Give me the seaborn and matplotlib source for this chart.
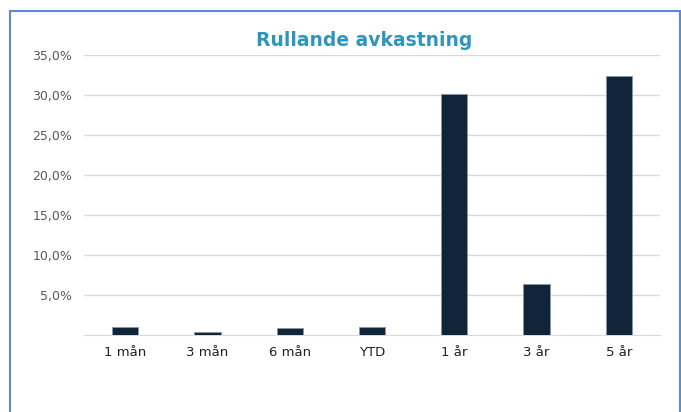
import matplotlib
matplotlib.use("Agg")
import matplotlib.pyplot as plt
from matplotlib.patches import Rectangle
from matplotlib.ticker import FuncFormatter
import seaborn as sns
import pandas as pd

# data
periods = ["1 mån", "3 mån", "6 mån", "YTD", "1 år", "3 år", "5 år"]
returns = [1.05, 0.35, 0.85, 1.05, 30.1, 6.35, 32.4]

df = pd.DataFrame({"period": periods, "ret": returns})

sns.set_style("white")
plt.rcParams["font.family"] = ["DejaVu Sans"]

fig = plt.figure(figsize=(6.81, 4.12), dpi=100)
ax = fig.add_axes([84 / 681, 77 / 412, 576 / 681, 280 / 412])

sns.barplot(data=df, x="period", y="ret", color="#10243a", width=0.32,
            saturation=1, edgecolor="#8a96a3", linewidth=0.6, ax=ax)

ax.set_ylim(0, 35)
ax.set_yticks([5, 10, 15, 20, 25, 30, 35])
ax.yaxis.set_major_formatter(FuncFormatter(lambda v, p: f"{v:.1f}%".replace(".", ",")))
ax.grid(axis="y", color="#d9d9d9", linewidth=1)
ax.set_axisbelow(True)
for s in ["top", "right", "left"]:
    ax.spines[s].set_visible(False)
ax.spines["bottom"].set_color("#d9d9d9")
ax.spines["bottom"].set_zorder(0.5)
ax.tick_params(axis="y", length=0, labelsize=9, labelcolor="#595959", pad=8.5)
ax.tick_params(axis="x", length=0, labelsize=9.5, labelcolor="#222222", pad=8)
ax.set_xlabel("")
ax.set_ylabel("")

fig.text(364 / 681, 1 - 40 / 412, "Rullande avkastning", ha="center", va="center",
         fontsize=13.5, fontweight="bold", color="#2e95bd")

# outer frame like the original chart box
fig.patches.append(Rectangle((10 / 681, -0.1), 670 / 681, 1.1 - 11 / 412,
                             transform=fig.transFigure, fill=False,
                             edgecolor="#5b8bd0", linewidth=1.5))

fig.savefig("out.png", dpi=100)
